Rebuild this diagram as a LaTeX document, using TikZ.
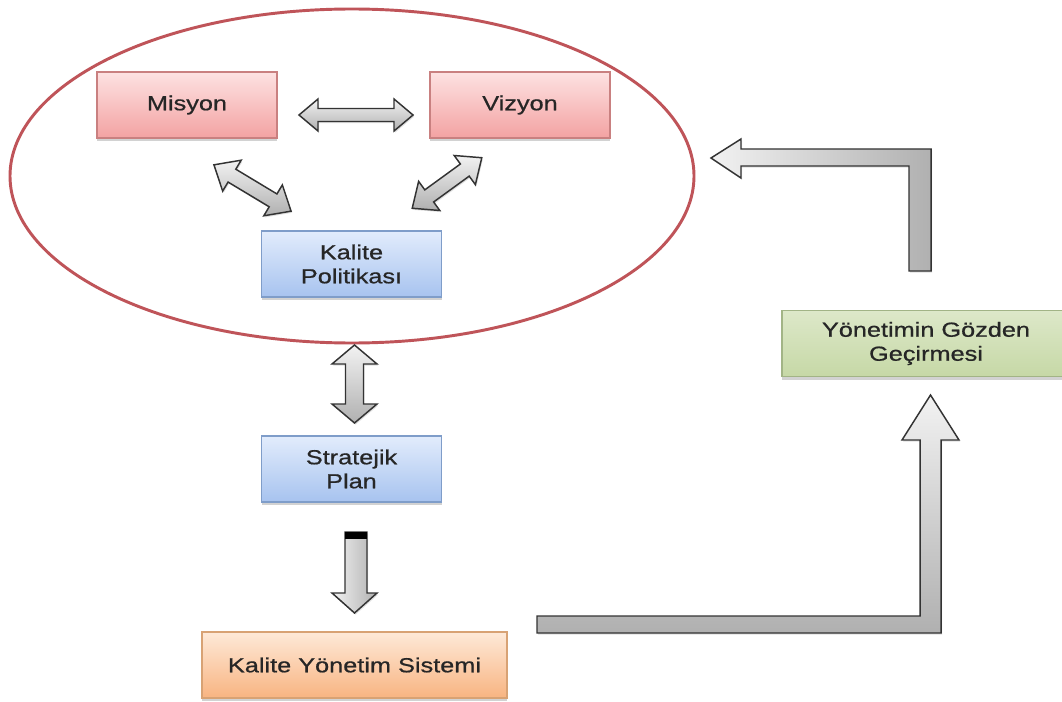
\documentclass[tikz,border=0pt]{standalone}
\usepackage{fontspec}
\setmainfont{Liberation Sans}[FakeStretch=1.24,FakeBold=0.7]
\usetikzlibrary{shadows,shapes.geometric}
\definecolor{pinkT}{HTML}{FDE2E2}
\definecolor{pinkD}{HTML}{F3A2A2}
\definecolor{pinkB}{HTML}{C98080}
\definecolor{blueT}{HTML}{E2ECFC}
\definecolor{blueD}{HTML}{A7C3EF}
\definecolor{blueB}{HTML}{7F9DC9}
\definecolor{oraT}{HTML}{FEE9D8}
\definecolor{oraD}{HTML}{F8B481}
\definecolor{oraB}{HTML}{D8A274}
\definecolor{grnT}{HTML}{DDE8C9}
\definecolor{grnD}{HTML}{C6D8A6}
\definecolor{grnB}{HTML}{A2B486}
\definecolor{arrT}{HTML}{F2F2F2}
\definecolor{arrD}{HTML}{B0B0B0}
\definecolor{arrB}{HTML}{333333}
\definecolor{ellC}{HTML}{BF5459}
\definecolor{txt}{HTML}{262626}
\tikzset{
  box/.style={draw, line width=0.8pt, minimum width=135pt, minimum height=49.5pt,
    inner sep=0pt, align=center, font=\fontsize{15.3}{18}\selectfont, text=txt,
    drop shadow={shadow xshift=0pt, shadow yshift=-2.2pt, opacity=0.35}},
  pinkbox/.style={box, draw=pinkB, top color=pinkT, bottom color=pinkD},
  bluebox/.style={box, draw=blueB, top color=blueT, bottom color=blueD},
  orabox/.style={box, draw=oraB, top color=oraT, bottom color=oraD},
  grnbox/.style={box, draw=grnB, top color=grnT, bottom color=grnD},
  barrow/.style={draw=arrB, line width=1.1pt, line join=miter,
    top color=arrT, bottom color=arrD,
    drop shadow={shadow xshift=0.8pt, shadow yshift=-1.2pt, opacity=0.25}},
  ellline/.style={draw=ellC, line width=2.2pt, ellipse, inner sep=0pt,
    minimum width=513pt, minimum height=250.5pt}
}
% #1 cx, #2 cy, #3 angle, #4 length, #5 shaft half, #6 head half, #7 head length
\newcommand\blkdbl[7]{%
  \begin{scope}[shift={(#1,#2)},rotate=#3]
    \pgfmathsetmacro\hl{#4/2}
    \pgfmathsetmacro\hb{#4/2-#7}
    \path[barrow] (-\hl,0) -- (-\hb,#6) -- (-\hb,#5) -- (\hb,#5) -- (\hb,#6)
      -- (\hl,0) -- (\hb,-#6) -- (\hb,-#5) -- (-\hb,-#5) -- (-\hb,-#6) -- cycle;
  \end{scope}}
\begin{document}
\begin{tikzpicture}[x=0.75pt,y=-0.75pt]
\useasboundingbox (0,0) rectangle (1062,702);
\fill[white] (0,0) rectangle (1062,702);

\node[ellline] (oval) at (352,176) {};

\node[pinkbox] (mis) at (187,105) {Misyon};
\node[pinkbox] (viz) at (520,105) {Vizyon};
\node[bluebox] (kp) at (351.5,264) {Kalite\\Politikası};
\node[bluebox] (sp) at (351.5,469) {Stratejik\\Plan};
\node[orabox, minimum width=228.75pt] (kys) at (354.5,665) {Kalite Yönetim Sistemi};
\node[grnbox, minimum width=216pt, minimum height=50pt] (ygg) at (926,343.5) {Yönetimin Gözden\\Geçirmesi};

% double block arrows
\blkdbl{356}{115}{0}{114}{6.5}{16}{19}
\blkdbl{252.5}{188}{-31}{90}{7.5}{18}{21}
\blkdbl{447}{183}{36}{86}{7.5}{18}{21}
\blkdbl{354.5}{384}{90}{78}{9}{22.5}{19}

% single down arrow
\path[barrow, left color=arrT, right color=arrD]
  (345,532) -- (367,532) -- (367,593) -- (377,593) -- (354.5,613)
  -- (332,593) -- (345,593) -- cycle;
\fill[black] (345,532) rectangle (367,539);

% elbow arrow: review -> ellipse
\path[barrow, left color=arrT, right color=arrD]
  (711,158) -- (741,139) -- (741,149) -- (931,149) -- (931,271) -- (909,271)
  -- (909,166) -- (741,166) -- (741,178) -- cycle;

% elbow arrow: system -> review
\path[barrow, top color=arrT, bottom color=arrD]
  (537,616) -- (920,616) -- (920,440) -- (902,440) -- (930.5,395) -- (959,440)
  -- (941,440) -- (941,633) -- (537,633) -- cycle;
\end{tikzpicture}
\end{document}
